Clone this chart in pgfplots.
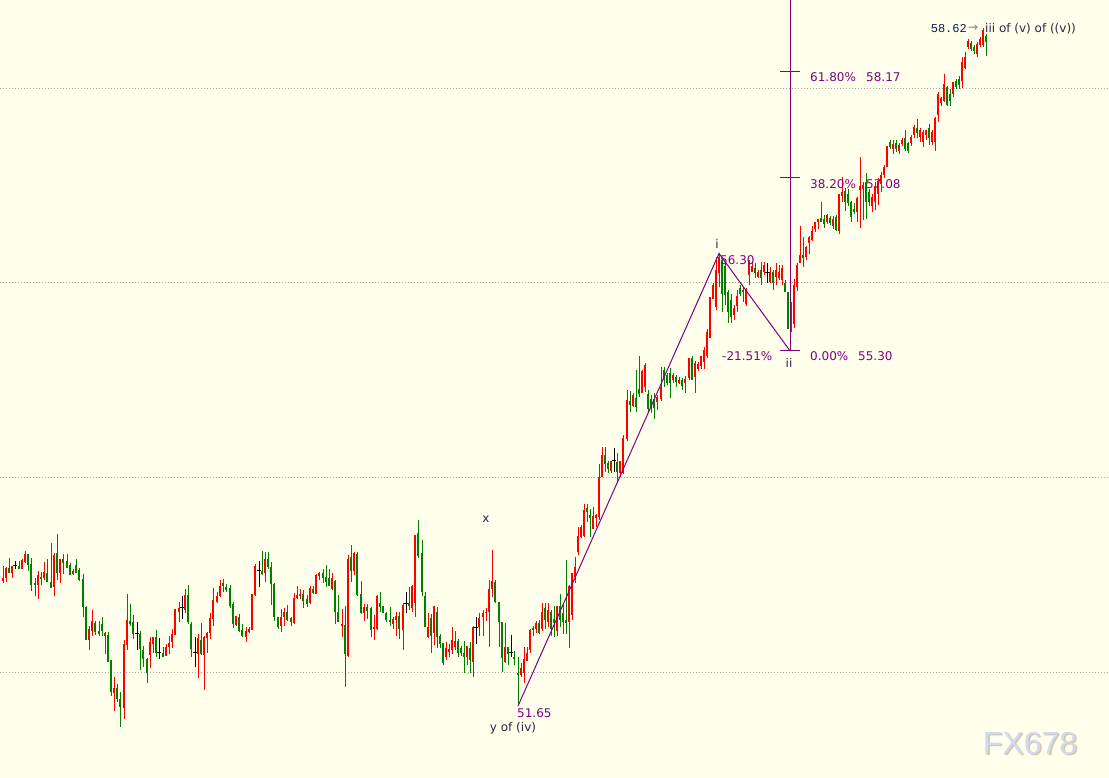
\documentclass[border=0pt]{standalone}
\usepackage{fontspec}
\setmainfont{DejaVu Sans}
\newfontfamily\monofont{Liberation Mono}
\newfontfamily\wmfont{Liberation Sans}
\usepackage{pgfplots}
\pgfplotsset{compat=1.18}
\usepackage{pgfplotstable}
\definecolor{bg}{RGB}{255,255,236}
\definecolor{cr}{RGB}{255,0,0}
\definecolor{cg}{RGB}{0,128,0}
\definecolor{pur}{RGB}{128,0,128}
\definecolor{lab}{RGB}{40,40,70}
\definecolor{navy}{RGB}{10,30,80}
\definecolor{wm}{RGB}{205,220,240}
\definecolor{wmsh}{RGB}{215,195,165}
\tikzset{lbl/.style={font=\fontsize{12}{14}\selectfont, inner sep=0pt}}
\pgfplotstableread{
x o h l c
3 52.93 53.09 52.91 52.97
6 52.97 53.08 52.93 53.07
9 53.07 53.17 53.02 53.02
12 53.02 53.09 52.97 53.09
15 53.09 53.14 53.06 53.09
19 53.09 53.14 53.06 53.06
22 53.06 53.16 53.06 53.15
25 53.13 53.24 53.12 53.21
28 53.21 53.21 53.04 53.10
31 53.11 53.17 52.83 52.89
35 52.92 52.97 52.78 52.89
38 52.89 53.04 52.75 53.00
41 52.98 53.03 52.89 52.96
44 52.97 53.13 52.95 53.03
47 53.02 53.16 52.92 52.92
51 52.92 53.33 52.86 52.86
54 52.87 53.22 52.78 53.20
57 53.22 53.42 52.94 53.02
60 53.02 53.16 52.91 53.16
63 53.16 53.21 53.01 53.12
67 53.14 53.21 53.07 53.07
70 53.10 53.12 53.00 53.00
73 53.01 53.06 53.00 53.04
76 53.10 53.16 53.02 53.02
79 53.05 53.07 52.93 52.95
83 52.96 53.01 52.56 52.67
86 52.67 52.68 52.33 52.33
89 52.33 52.47 52.23 52.44
92 52.42 52.64 52.37 52.52
95 52.50 52.52 52.38 52.41
99 52.42 52.53 52.37 52.39
102 52.49 52.57 52.37 52.42
105 52.37 52.41 52.18 52.40
108 52.38 52.41 52.10 52.10
111 52.12 52.12 51.75 51.79
114 51.79 51.95 51.60 51.84
117 51.84 51.88 51.69 51.72
120 51.72 51.80 51.44 51.64
124 51.63 52.33 51.52 52.29
127 52.28 52.80 52.23 52.53
130 52.53 52.70 52.47 52.49
133 52.51 52.59 52.34 52.39
137 52.40 52.51 52.23 52.40
140 52.39 52.42 52.02 52.24
143 52.23 52.27 52.05 52.13
147 52.13 52.14 51.89 51.99
150 52.17 52.36 52.04 52.31
153 52.29 52.36 52.20 52.36
156 52.36 52.43 52.15 52.20
159 52.20 52.35 52.13 52.20
163 52.20 52.26 52.15 52.15
166 52.17 52.29 52.16 52.26
169 52.26 52.37 52.19 52.30
172 52.31 52.44 52.25 52.39
175 52.38 52.65 52.38 52.65
179 52.62 52.72 52.51 52.66
182 52.66 52.78 52.54 52.66
185 52.64 52.85 52.61 52.79
188 52.79 52.89 52.49 52.51
191 52.49 52.51 52.15 52.24
195 52.20 52.36 52.05 52.20
198 52.19 52.39 51.94 52.35
201 52.33 52.50 52.18 52.19
204 52.18 52.37 51.82 52.36
207 52.35 52.41 52.20 52.40
210 52.40 52.61 52.34 52.55
213 52.55 52.86 52.47 52.74
217 52.72 52.82 52.71 52.78
220 52.78 52.95 52.77 52.88
223 52.92 52.96 52.82 52.88
226 52.87 52.91 52.82 52.84
230 52.86 52.89 52.66 52.68
233 52.70 52.72 52.45 52.49
236 52.48 52.58 52.47 52.58
239 52.57 52.60 52.41 52.42
242 52.43 52.49 52.36 52.37
246 52.36 52.46 52.31 52.42
249 52.41 52.46 52.40 52.44
252 52.43 52.80 52.43 52.80
255 52.79 53.11 52.78 53.09
259 53.04 53.14 52.87 53.04
262 53.04 53.24 53.00 53.01
265 53.02 53.23 52.92 53.16
268 53.16 53.23 53.06 53.08
271 53.08 53.13 52.69 52.91
274 52.91 52.91 52.52 52.57
278 52.57 52.57 52.44 52.46
281 52.47 52.65 52.41 52.56
284 52.56 52.66 52.47 52.62
287 52.62 52.69 52.52 52.54
291 52.56 52.57 52.47 52.51
294 52.50 52.81 52.49 52.76
297 52.76 52.88 52.75 52.79
300 52.78 52.85 52.75 52.80
303 52.80 52.84 52.66 52.73
307 52.75 52.79 52.67 52.70
310 52.71 52.88 52.70 52.86
313 52.85 52.88 52.80 52.81
316 52.80 53.01 52.80 53.00
319 52.99 53.03 52.95 53.02
323 53.02 53.06 52.92 52.97
326 52.98 53.10 52.87 52.93
329 52.97 53.06 52.88 52.88
332 52.85 53.02 52.84 52.97
335 52.94 52.95 52.49 52.62
338 52.62 52.79 52.51 52.51
342 52.47 52.65 52.36 52.49
345 52.48 52.68 51.85 52.19
348 52.16 53.20 52.15 53.16
351 53.18 53.31 52.93 53.04
354 53.04 53.23 53.00 53.22
357 53.21 53.23 52.78 52.79
361 52.80 52.93 52.60 52.61
364 52.61 52.70 52.52 52.67
367 52.67 52.70 52.54 52.63
371 52.66 52.67 52.36 52.43
374 52.44 52.59 52.33 52.46
377 52.44 52.79 52.43 52.78
380 52.71 52.82 52.62 52.67
383 52.68 52.68 52.61 52.61
386 52.61 52.62 52.51 52.53
390 52.54 52.67 52.47 52.51
393 52.49 52.57 52.44 52.54
396 52.54 52.62 52.37 52.58
399 52.58 52.62 52.34 52.44
403 52.43 52.71 52.23 52.69
406 52.70 52.82 52.61 52.70
409 52.71 52.87 52.64 52.68
412 52.66 52.89 52.62 52.88
415 52.71 53.41 52.57 53.41
418 53.43 53.56 53.17 53.19
422 53.22 53.36 52.78 52.82
425 52.78 52.82 52.46 52.46
428 52.36 52.61 52.35 52.46
431 52.56 52.60 52.20 52.37
434 52.40 52.68 52.28 52.68
437 52.62 52.67 52.25 52.36
440 52.37 52.39 52.25 52.29
443 52.30 52.30 52.07 52.09
446 52.15 52.31 52.12 52.25
449 52.21 52.29 52.15 52.24
452 52.23 52.46 52.19 52.33
455 52.26 52.42 52.23 52.32
458 52.32 52.34 52.15 52.20
461 52.25 52.27 52.17 52.20
464 52.20 52.32 51.99 52.15
467 52.15 52.27 52.07 52.27
470 52.25 52.31 51.99 52.12
473 52.10 52.47 51.95 52.46
476 52.46 52.56 52.29 52.46
479 52.46 52.61 52.37 52.56
483 52.56 52.64 52.37 52.61
486 52.61 52.66 52.52 52.62
489 52.62 52.95 52.26 52.85
492 52.85 53.25 52.77 52.93
495 52.93 52.95 52.71 52.72
499 52.72 52.72 52.26 52.51
502 52.51 52.51 52.00 52.14
505 52.10 52.50 52.09 52.26
508 52.26 52.26 52.07 52.19
511 52.20 52.38 52.15 52.20
514 52.15 52.22 52.07 52.14
518 51.99 52.16 51.65 51.98
521 51.97 52.09 51.95 52.04
524 51.99 52.26 51.89 52.13
527 52.11 52.26 52.11 52.20
530 52.23 52.44 52.20 52.43
533 52.45 52.47 52.37 52.43
536 52.44 52.52 52.40 52.50
539 52.50 52.53 52.39 52.40
542 52.44 52.71 52.42 52.62
545 52.66 52.71 52.44 52.54
548 52.51 52.71 52.46 52.64
551 52.62 52.64 52.37 52.44
554 52.55 52.68 52.36 52.50
557 52.42 52.68 52.37 52.68
560 52.68 52.80 52.46 52.53
563 52.61 52.69 52.39 52.51
566 52.54 53.15 52.39 52.50
569 52.51 52.89 52.25 52.88
572 52.59 53.02 52.54 53.02
575 52.98 53.18 52.92 53.08
578 53.23 53.49 53.20 53.40
581 53.39 53.51 53.38 53.49
584 53.40 53.73 53.39 53.66
587 53.69 53.73 53.54 53.64
590 53.61 53.67 53.39 53.58
593 53.47 53.69 53.47 53.60
596 53.58 53.62 53.49 53.61
599 53.59 54.14 53.56 54.00
602 54.00 54.31 54.00 54.23
605 54.23 54.31 54.05 54.14
608 54.15 54.17 54.05 54.09
611 54.07 54.17 54.05 54.17
614 54.17 54.30 54.05 54.17
617 54.16 54.25 53.94 54.05
620 54.04 54.17 54.00 54.17
623 54.05 54.44 54.04 54.40
627 54.39 54.90 54.37 54.79
630 54.79 54.89 54.67 54.74
633 54.73 54.87 54.72 54.85
636 54.82 55.10 54.67 54.72
639 54.91 55.25 54.83 54.86
642 54.87 55.10 54.87 55.09
645 54.93 55.17 54.88 55.15
648 54.86 54.90 54.67 54.70
651 54.81 54.85 54.66 54.72
654 54.80 54.87 54.60 54.71
657 54.77 54.85 54.69 54.83
661 54.80 55.13 54.78 54.93
664 55.10 55.13 54.93 55.00
667 55.05 55.07 54.95 54.97
670 55.07 55.12 54.82 54.97
673 55.00 55.07 54.97 55.05
676 55.03 55.05 54.93 54.98
679 54.97 55.03 54.96 55.00
682 55.00 55.02 54.90 54.94
685 54.97 55.04 54.87 55.01
689 55.02 55.23 55.00 55.23
692 55.23 55.25 55.00 55.00
695 55.03 55.20 54.87 55.17
698 55.11 55.18 55.09 55.16
701 55.14 55.25 55.11 55.25
704 55.19 55.34 55.11 55.31
707 55.25 55.52 55.23 55.49
710 55.43 55.85 55.43 55.85
713 55.83 56.00 55.83 55.98
716 55.75 56.26 55.72 56.13
719 56.10 56.30 55.96 56.26
722 56.23 56.25 55.70 55.88
725 56.17 56.20 55.77 55.87
728 55.91 55.93 55.59 55.70
731 55.82 55.88 55.59 55.65
734 55.67 55.77 55.62 55.74
737 55.76 55.93 55.70 55.86
740 55.95 55.98 55.86 55.88
743 55.93 55.96 55.80 55.90
746 55.78 55.95 55.76 55.93
749 56.08 56.23 55.98 56.20
752 56.11 56.21 56.11 56.17
755 56.15 56.20 56.05 56.10
758 56.06 56.13 56.05 56.11
761 56.13 56.21 55.98 56.05
764 56.11 56.21 56.08 56.18
767 56.10 56.20 56.00 56.10
770 56.01 56.16 56.00 56.11
773 56.11 56.13 55.93 56.00
776 56.06 56.20 55.98 56.13
779 56.05 56.18 56.03 56.11
782 56.03 56.18 55.98 56.15
785 56.00 56.03 55.90 55.91
788 55.90 55.91 55.52 55.52
791 55.50 55.80 55.49 55.79
794 55.58 56.04 55.54 55.98
797 55.96 56.20 55.91 56.18
800 56.20 56.58 56.20 56.28
803 56.28 56.47 56.16 56.25
806 56.26 56.38 56.23 56.37
809 56.41 56.48 56.30 56.47
812 56.44 56.58 56.43 56.53
815 56.55 56.62 56.52 56.62
818 56.62 56.66 56.55 56.66
821 56.67 56.83 56.62 56.62
824 56.65 56.70 56.56 56.60
827 56.62 56.71 56.60 56.70
830 56.66 56.68 56.59 56.61
833 56.58 56.68 56.55 56.65
836 56.68 56.70 56.53 56.54
839 56.53 56.91 56.50 56.91
842 56.89 57.09 56.83 56.93
845 56.94 56.97 56.74 56.83
848 56.91 56.96 56.79 56.82
851 56.83 56.84 56.62 56.68
854 56.76 56.82 56.71 56.73
857 56.73 56.88 56.62 56.87
860 56.95 57.29 56.56 56.99
863 56.96 57.04 56.64 57.00
866 57.03 57.13 56.66 56.83
869 56.93 56.96 56.79 56.83
872 56.79 56.91 56.73 56.88
875 56.83 57.04 56.75 56.99
878 56.91 57.08 56.80 57.04
881 57.01 57.14 56.93 57.11
884 57.11 57.21 57.08 57.19
887 57.19 57.40 57.19 57.40
890 57.45 57.47 57.37 57.39
893 57.37 57.47 57.32 57.43
896 57.44 57.47 57.34 57.37
899 57.35 57.44 57.32 57.42
902 57.42 57.49 57.40 57.47
905 57.49 57.57 57.35 57.37
908 57.44 57.45 57.33 57.35
911 57.44 57.52 57.40 57.50
914 57.52 57.62 57.49 57.60
917 57.59 57.68 57.49 57.54
920 57.50 57.59 57.45 57.57
923 57.45 57.57 57.39 57.55
926 57.52 57.57 57.47 57.57
929 57.59 57.63 57.42 57.49
932 57.45 57.57 57.42 57.55
935 57.45 57.70 57.35 57.69
938 57.72 57.96 57.65 57.94
941 57.85 57.91 57.81 57.90
944 57.87 58.14 57.86 58.04
947 58.01 58.02 57.81 57.82
950 57.94 57.99 57.81 57.87
953 57.94 58.06 57.91 58.06
956 58.07 58.09 57.99 58.01
959 58.09 58.12 57.99 58.03
962 58.07 58.32 58.00 58.27
965 58.21 58.37 58.19 58.32
968 58.42 58.50 58.40 58.48
971 58.46 58.48 58.38 58.40
974 58.42 58.44 58.35 58.38
977 58.35 58.47 58.32 58.45
980 58.44 58.52 58.42 58.50
983 58.44 58.62 58.42 58.60
986 58.53 58.55 58.33 58.47
}\candles
\begin{document}
\begin{tikzpicture}
\begin{axis}[
  at={(0,0)}, anchor=south west,
  scale only axis, width=1109pt, height=778pt,
  xmin=0, xmax=1109, ymin=50.911, ymax=58.904,
  axis line style={draw=none}, tick style={draw=none},
  xtick=\empty, ytick={52,54,56,58}, yticklabels={},
  ymajorgrids, major grid style={draw={rgb,255:red,170;green,170;blue,170}, line width=0.8pt, dash pattern=on 1pt off 2pt},
  axis background/.style={fill=bg},
  restrict y to domain=50:60,
]
% wicks
\addplot[draw=none, forget plot, error bars/.cd, y dir=both, y explicit, error mark=none,
  error bar style={draw=cr, line width=1pt}]
  table[x=x, y expr={\thisrow{c}>\thisrow{o} ? (\thisrow{h}+\thisrow{l})/2 : 0},
        y error expr={(\thisrow{h}-\thisrow{l})/2}] {\candles};
\addplot[draw=none, forget plot, error bars/.cd, y dir=both, y explicit, error mark=none,
  error bar style={draw=cg, line width=1pt}]
  table[x=x, y expr={\thisrow{c}<\thisrow{o} ? (\thisrow{h}+\thisrow{l})/2 : 0},
        y error expr={(\thisrow{h}-\thisrow{l})/2}] {\candles};
\addplot[draw=none, forget plot, error bars/.cd, y dir=both, y explicit, error mark=none,
  error bar style={draw=black, line width=1pt}]
  table[x=x, y expr={\thisrow{c}==\thisrow{o} ? (\thisrow{h}+\thisrow{l})/2 : 0},
        y error expr={(\thisrow{h}-\thisrow{l})/2}] {\candles};
% bodies
\addplot[draw=none, forget plot, error bars/.cd, y dir=both, y explicit, error mark=none,
  error bar style={draw=cr, line width=2.3pt}]
  table[x=x, y expr={\thisrow{c}>\thisrow{o} ? (\thisrow{o}+\thisrow{c})/2 : 0},
        y error expr={abs(\thisrow{c}-\thisrow{o})/2}] {\candles};
\addplot[draw=none, forget plot, error bars/.cd, y dir=both, y explicit, error mark=none,
  error bar style={draw=cg, line width=2.3pt}]
  table[x=x, y expr={\thisrow{c}<\thisrow{o} ? (\thisrow{o}+\thisrow{c})/2 : 0},
        y error expr={abs(\thisrow{c}-\thisrow{o})/2}] {\candles};
\addplot[only marks, mark=-, mark size=1.6pt, mark options={line width=1pt, draw=black}, forget plot]
  table[x=x, y expr={\thisrow{c}==\thisrow{o} ? \thisrow{c} : 0}] {\candles};
% wave lines
\addplot[pur, line width=1pt, forget plot] coordinates {(518,51.65) (719,56.30) (790,55.30)};
% fibonacci tool
\addplot[pur, line width=1pt, forget plot] coordinates {(790,55.30) (790,59.2)};
\addplot[pur, line width=1pt, forget plot] coordinates {(780,55.30) (800,55.30)};
\addplot[pur, line width=1pt, forget plot] coordinates {(780,57.08) (800,57.08)};
\addplot[pur, line width=1pt, forget plot] coordinates {(780,58.17) (800,58.17)};
% labels
\node[lbl, anchor=west, text=pur] at (axis cs:810,58.11) {61.80\%};
\node[lbl, anchor=west, text=pur] at (axis cs:866,58.11) {58.17};
\node[lbl, anchor=west, text=pur] at (axis cs:810,57.01) {38.20\%};
\node[lbl, anchor=west, text=pur] at (axis cs:866,57.01) {57.08};
\node[lbl, anchor=west, text=pur] at (axis cs:810,55.24) {0.00\%};
\node[lbl, anchor=west, text=pur] at (axis cs:858,55.24) {55.30};
\node[lbl, anchor=west, text=pur] at (axis cs:722,55.24) {-21.51\%};
\node[lbl, anchor=west, text=pur] at (axis cs:720,56.23) {56.30};
\node[lbl, anchor=west, text=pur] at (axis cs:517,51.58) {51.65};
\node[lbl, text=lab] at (axis cs:717,56.40) {i};
\node[lbl, text=lab] at (axis cs:789,55.17) {ii};
\node[lbl, text=lab] at (axis cs:486,53.57) {x};
\node[lbl, text=lab] at (axis cs:513,51.42) {y of (iv)};
\node[lbl, anchor=east, text=navy] at (axis cs:967,58.61) {\monofont\fontsize{12}{14}\selectfont 58.62};
\node[lbl, anchor=west, text=gray] at (axis cs:968,58.61) {→};
\node[lbl, anchor=west, text=lab] at (axis cs:985,58.61) {iii of (v) of ((v))};
\node[lbl, text=wmsh] at (axis cs:1031.5,51.255) {\wmfont\fontsize{32}{34}\selectfont FX678};
\node[lbl, text=wm] at (axis cs:1030,51.27) {\wmfont\fontsize{32}{34}\selectfont FX678};
\end{axis}
\pgfresetboundingbox
\useasboundingbox (0,0) rectangle (1109pt,778pt);
\end{tikzpicture}
\end{document}
